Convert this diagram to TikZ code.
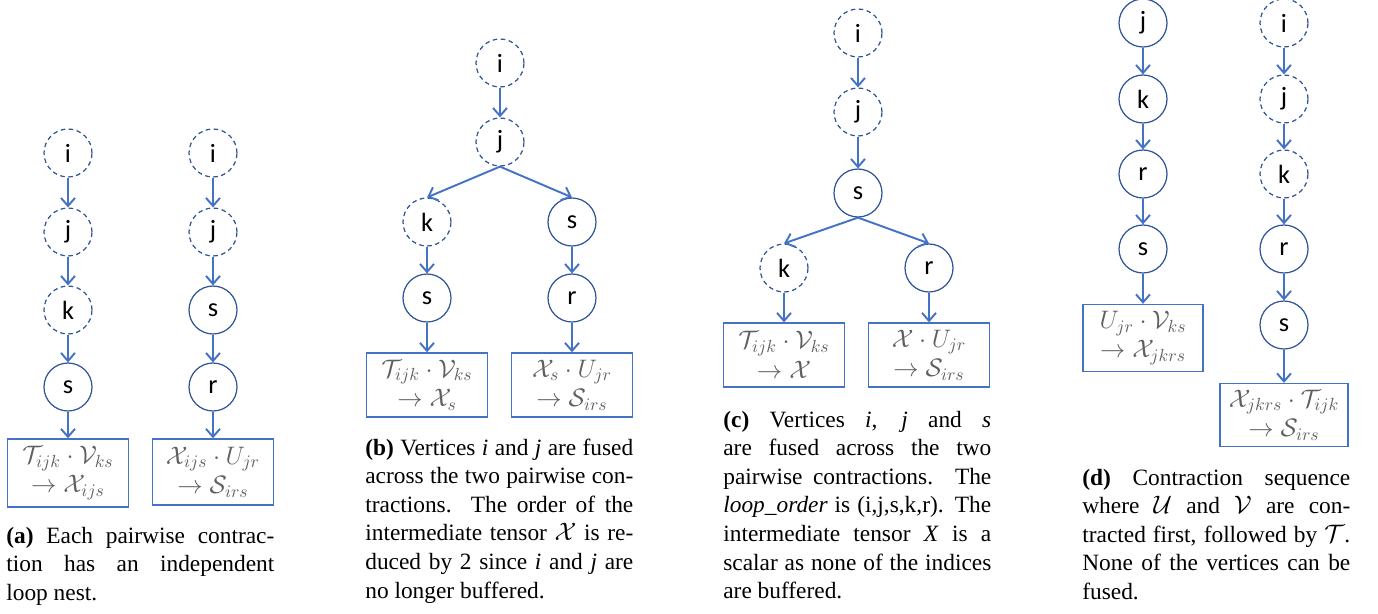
\documentclass[tikz,border=0pt]{standalone}
\usepackage{fontspec}
\setmainfont{Liberation Serif}
\newfontfamily\vertfont{Carlito}
\usetikzlibrary{arrows.meta}
\definecolor{lpblue}{HTML}{4472C4}
\definecolor{lpdark}{HTML}{2F5597}
\definecolor{lpgray}{HTML}{5F5F5F}
\tikzset{
  vert/.style={circle, draw=lpdark, line width=0.7pt, minimum size=0.96cm,
    inner sep=0pt, font=\vertfont\fontsize{15}{17}\selectfont},
  fusedv/.style={vert, dash pattern=on 2.6pt off 2pt},
  cbox/.style={draw=lpblue, line width=0.8pt, minimum width=2.42cm,
    minimum height=1.3cm, align=center, inner sep=1pt, text=lpgray,
    font=\fontsize{14.4}{16.8}\selectfont},
  arr/.style={-{Straight Barb[length=1.6mm,width=2.8mm]}, line width=1.1pt, lpblue},
  captext/.style={anchor=base west, text width=5.36cm, inner sep=0pt, align=justify,
    font=\fontsize{13.3}{16.3}\selectfont},
}

\begin{document}
\begin{tikzpicture}[x=0.02cm, y=-0.02cm]
  \useasboundingbox (0,0) rectangle (1378,613);
  % (a) two independent nests
  \node[fusedv] (ai1) at (68,153) {i};
  \node[fusedv] (aj1) at (68,232) {j};
  \node[fusedv] (ak1) at (68,310) {k};
  \node[vert] (as1) at (68,387) {s};
  \node[cbox, minimum height=1.36cm] (abox1) at (68,473)
    {$\mathcal{T}_{ijk}\cdot\mathcal{V}_{ks}$\\$\rightarrow\mathcal{X}_{ijs}$};
  \node[fusedv] (ai2) at (213,153) {i};
  \node[fusedv] (aj2) at (213,232) {j};
  \node[vert] (as2) at (213,310) {s};
  \node[vert] (ar2) at (213,387) {r};
  \node[cbox, minimum height=1.32cm] (abox2) at (213,472)
    {$\mathcal{X}_{ijs}\cdot U_{jr}$\\$\rightarrow\mathcal{S}_{irs}$};
  % (b) i and j fused
  \node[fusedv] (bi) at (500,63) {i};
  \node[fusedv] (bj) at (500,142) {j};
  \node[fusedv] (bk) at (427,222) {k};
  \node[vert] (bsl) at (427,298) {s};
  \node[vert] (bsr) at (572,222) {s};
  \node[vert] (br) at (572,298) {r};
  \node[cbox, minimum height=1.28cm] (bbox1) at (427,385)
    {$\mathcal{T}_{ijk}\cdot\mathcal{V}_{ks}$\\$\rightarrow\mathcal{X}_{s}$};
  \node[cbox, minimum height=1.28cm] (bbox2) at (572,385)
    {$\mathcal{X}_{s}\cdot U_{jr}$\\$\rightarrow\mathcal{S}_{irs}$};
  % (c) i, j and s fused
  \node[fusedv] (ci) at (858,33) {i};
  \node[fusedv] (cj) at (858,112) {j};
  \node[vert] (cs) at (858,193) {s};
  \node[fusedv] (ck) at (784,268) {k};
  \node[vert] (cr) at (929,268) {r};
  \node[cbox, minimum height=1.28cm] (cbox1) at (784,355)
    {$\mathcal{T}_{ijk}\cdot\mathcal{V}_{ks}$\\$\rightarrow\mathcal{X}$};
  \node[cbox, minimum height=1.28cm] (cbox2) at (929,355)
    {$\mathcal{X}\cdot U_{jr}$\\$\rightarrow\mathcal{S}_{irs}$};
  % (d) U and V first
  \node[vert] (dj1) at (1143,23) {j};
  \node[vert] (dk1) at (1143,99) {k};
  \node[vert] (dr1) at (1143,174) {r};
  \node[vert] (ds1) at (1143,249) {s};
  \node[cbox, minimum width=2.4cm, minimum height=1.34cm] (dbox1) at (1143,338)
    {$U_{jr}\cdot\mathcal{V}_{ks}$\\$\rightarrow\mathcal{X}_{jkrs}$};
  \node[fusedv] (di2) at (1284,23) {i};
  \node[fusedv] (dj2) at (1284,99) {j};
  \node[fusedv] (dk2) at (1284,174) {k};
  \node[vert] (dr2) at (1284,249) {r};
  \node[vert] (ds2) at (1284,325) {s};
  \node[cbox, minimum width=2.56cm, minimum height=1.26cm] (dbox2) at (1284,415)
    {$\mathcal{X}_{jkrs}\cdot\mathcal{T}_{ijk}$\\$\rightarrow\mathcal{S}_{irs}$};
  % connectors
  \foreach \u/\v in {ai1/aj1, aj1/ak1, ak1/as1, as1/abox1,
      ai2/aj2, aj2/as2, as2/ar2, ar2/abox2,
      bi/bj, bj.south/bk.north, bj.south/bsr.north, bk/bsl, bsl/bbox1,
      bsr/br, br/bbox2,
      ci/cj, cj/cs, cs.south/ck.north, cs.south/cr.north, ck/cbox1, cr/cbox2,
      dj1/dk1, dk1/dr1, dr1/ds1, ds1/dbox1,
      di2/dj2, dj2/dk2, dk2/dr2, dr2/ds2, ds2/dbox2}
    \draw[arr] (\u) -- (\v);
  % captions
  \node[captext] (capa) at (6,543) {\textbf{(a)} Each pairwise contrac-\linebreak
    tion has an independent\linebreak loop nest.};
  \node[captext] (capb) at (365,455) {\textbf{(b)} Vertices \textit{i} and \textit{j} are fused\linebreak
    across the two pairwise con-\linebreak tractions. The order of the\linebreak
    intermediate tensor $\mathcal{X}$ is re-\linebreak duced by 2 since \textit{i} and \textit{j} are\linebreak
    no longer buffered.};
  \node[captext] (capc) at (723,427) {\textbf{(c)} Vertices \textit{i}, \textit{j} and \textit{s}\linebreak
    are fused across the two\linebreak pairwise contractions. The\linebreak
    \textit{loop\_order} is (i,j,s,k,r). The\linebreak intermediate tensor \textit{X} is a\linebreak
    scalar as none of the indices\linebreak are buffered.};
  \node[captext] (capd) at (1082,485) {\textbf{(d)} Contraction sequence\linebreak
    where $\mathcal{U}$ and $\mathcal{V}$ are con-\linebreak tracted first, followed by $\mathcal{T}$.\linebreak
    None of the vertices can be\linebreak fused.};
\end{tikzpicture}
\end{document}
